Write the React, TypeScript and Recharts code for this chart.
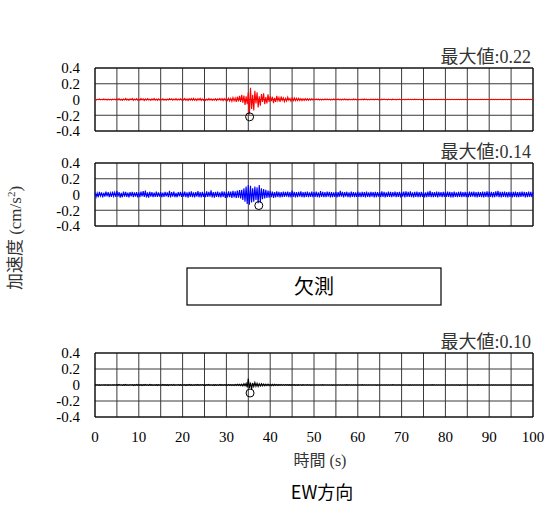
import React from 'react';
import { ComposedChart, Line, XAxis, YAxis, CartesianGrid, ReferenceDot, ReferenceArea } from 'recharts';

const SAMPLE_STEP = 0.25; // seconds between samples

const redValues = [
  0.004,-0.006,0.003,-0.002,0.007,-0.005,0.002,-0.004,0.006,-0.003,0.005,-0.007,0.003,-0.004,0.002,-0.006,0.005,-0.003,0.004,-0.005,
  0.008,-0.006,0.011,-0.009,0.004,-0.012,0.007,-0.005,0.013,-0.008,0.006,-0.01,0.009,-0.004,0.012,-0.011,0.005,-0.007,0.01,-0.009,
  0.006,-0.01,0.012,-0.005,0.008,-0.013,0.007,-0.009,0.011,-0.006,0.004,-0.011,0.009,-0.008,0.013,-0.007,0.006,-0.012,0.008,-0.005,
  0.007,-0.005,0.009,-0.008,0.004,-0.01,0.006,-0.007,0.011,-0.004,0.008,-0.009,0.005,-0.006,0.01,-0.008,0.007,-0.005,0.009,-0.006,
  0.01,-0.008,0.013,-0.011,0.006,-0.014,0.009,-0.007,0.012,-0.01,0.015,-0.009,0.008,-0.013,0.011,-0.006,0.014,-0.012,0.007,-0.01,
  0.008,-0.01,0.006,-0.009,0.012,-0.007,0.009,-0.011,0.005,-0.008,0.01,-0.012,0.007,-0.006,0.013,-0.009,0.011,-0.014,0.012,-0.01,
  0.015,-0.012,0.018,-0.02,0.014,-0.022,0.025,-0.018,0.02,-0.03,0.035,-0.025,0.045,-0.03,0.06,-0.04,0.05,-0.07,0.04,-0.06,
  0.09,-0.19,0.15,-0.12,0.06,-0.14,0.11,-0.05,0.09,-0.1,0.04,-0.08,0.07,-0.03,0.08,-0.06,0.03,-0.05,0.065,-0.03,
  0.04,-0.02,0.035,-0.045,0.02,-0.03,0.045,-0.015,0.025,-0.03,0.038,-0.012,0.02,-0.028,0.015,-0.02,0.03,-0.01,0.012,-0.022,
  0.018,-0.015,0.02,-0.014,0.016,-0.012,0.015,-0.013,0.012,-0.014,0.01,-0.012,0.011,-0.009,0.01,-0.011,0.008,-0.009,0.01,-0.007,
  0.006,-0.005,0.007,-0.004,0.006,-0.006,0.005,-0.007,0.004,-0.005,0.006,-0.004,0.007,-0.005,0.005,-0.006,0.004,-0.005,0.006,-0.004,
  0.005,-0.004,0.006,-0.005,0.004,-0.006,0.005,-0.003,0.006,-0.005,0.004,-0.006,0.005,-0.004,0.003,-0.005,0.006,-0.004,0.005,-0.005,
  0.004,-0.005,0.003,-0.004,0.005,-0.004,0.006,-0.003,0.004,-0.005,0.003,-0.004,0.005,-0.003,0.004,-0.005,0.004,-0.003,0.005,-0.004,
  0.003,-0.004,0.004,-0.003,0.005,-0.003,0.003,-0.004,0.004,-0.002,0.003,-0.004,0.004,-0.003,0.002,-0.004,0.003,-0.003,0.004,-0.002,
  0.003,-0.003,0.002,-0.004,0.003,-0.002,0.004,-0.003,0.002,-0.003,0.003,-0.002,0.004,-0.003,0.003,-0.002,0.002,-0.003,0.003,-0.004,
  0.002,-0.003,0.003,-0.002,0.002,-0.003,0.003,-0.002,0.003,-0.003,0.002,-0.002,0.003,-0.003,0.002,-0.003,0.003,-0.002,0.002,-0.003,
  0.003,-0.002,0.002,-0.003,0.003,-0.003,0.002,-0.002,0.003,-0.002,0.002,-0.003,0.003,-0.002,0.003,-0.003,0.002,-0.002,0.003,-0.003,
  0.002,-0.003,0.003,-0.003,0.002,-0.002,0.003,-0.003,0.002,-0.003,0.003,-0.002,0.002,-0.003,0.003,-0.002,0.002,-0.003,0.003,-0.002,
  0.003,-0.002,0.002,-0.003,0.002,-0.002,0.003,-0.003,0.003,-0.002,0.002,-0.003,0.003,-0.002,0.002,-0.003,0.003,-0.003,0.002,-0.002,
  0.002,-0.003,0.003,-0.002,0.003,-0.003,0.002,-0.002,0.003,-0.003,0.002,-0.002,0.003,-0.003,0.002,-0.003,0.002,-0.002,0.003,-0.003,
  0.002,
];

const blueValues = [
  0.025,-0.03,0.018,-0.035,0.032,-0.02,0.028,-0.038,0.022,-0.027,0.035,-0.024,0.03,-0.033,0.02,-0.029,0.036,-0.022,0.027,-0.031,
  0.045,-0.028,0.03,-0.04,0.022,-0.035,0.038,-0.026,0.033,-0.03,0.024,-0.037,0.029,-0.023,0.034,-0.032,0.026,-0.028,0.031,-0.036,
  0.027,-0.033,0.038,-0.025,0.042,-0.03,0.05,-0.036,0.028,-0.04,0.035,-0.026,0.03,-0.034,0.024,-0.029,0.037,-0.031,0.026,-0.028,
  0.03,-0.035,0.025,-0.029,0.034,-0.024,0.028,-0.033,0.048,-0.038,0.031,-0.027,0.036,-0.032,0.022,-0.035,0.029,-0.025,0.033,-0.03,
  0.032,-0.026,0.037,-0.034,0.028,-0.039,0.035,-0.029,0.04,-0.033,0.027,-0.036,0.031,-0.028,0.044,-0.035,0.03,-0.038,0.034,-0.031,
  0.028,-0.034,0.041,-0.03,0.033,-0.027,0.052,-0.036,0.03,-0.04,0.035,-0.029,0.038,-0.033,0.027,-0.037,0.04,-0.031,0.036,-0.042,
  0.034,-0.038,0.04,-0.033,0.037,-0.042,0.045,-0.036,0.04,-0.045,0.05,-0.04,0.055,-0.05,0.06,-0.07,0.08,-0.09,0.1,-0.12,
  0.12,-0.13,0.11,-0.1,0.08,-0.09,0.1,-0.07,0.09,-0.11,0.12,-0.1,0.08,-0.06,0.07,-0.05,0.06,-0.045,0.05,-0.04,
  0.045,-0.035,0.038,-0.042,0.03,-0.036,0.04,-0.032,0.035,-0.038,0.029,-0.034,0.037,-0.03,0.033,-0.028,0.036,-0.035,0.031,-0.037,
  0.05,-0.03,0.034,-0.038,0.029,-0.035,0.033,-0.027,0.039,-0.032,0.03,-0.036,0.035,-0.029,0.038,-0.034,0.028,-0.031,0.036,-0.033,
  0.031,-0.029,0.036,-0.034,0.027,-0.038,0.042,-0.03,0.033,-0.035,0.029,-0.032,0.037,-0.028,0.034,-0.036,0.03,-0.033,0.028,-0.031,
  0.034,-0.037,0.029,-0.031,0.046,-0.028,0.032,-0.036,0.03,-0.027,0.035,-0.033,0.028,-0.038,0.036,-0.03,0.031,-0.034,0.027,-0.029,
  0.036,-0.031,0.028,-0.035,0.033,-0.029,0.031,-0.037,0.038,-0.03,0.027,-0.033,0.035,-0.028,0.03,-0.036,0.034,-0.032,0.029,-0.027,
  0.029,-0.034,0.04,-0.03,0.032,-0.037,0.028,-0.031,0.036,-0.029,0.033,-0.035,0.03,-0.028,0.037,-0.033,0.031,-0.03,0.035,-0.036,
  0.033,-0.028,0.037,-0.036,0.041,-0.031,0.033,-0.029,0.039,-0.034,0.028,-0.037,0.032,-0.03,0.036,-0.033,0.029,-0.035,0.034,-0.03,
  0.03,-0.036,0.028,-0.032,0.037,-0.029,0.047,-0.035,0.031,-0.033,0.029,-0.03,0.036,-0.037,0.033,-0.028,0.03,-0.034,0.035,-0.031,
  0.035,-0.03,0.037,-0.029,0.032,-0.036,0.03,-0.037,0.036,-0.031,0.028,-0.034,0.033,-0.03,0.038,-0.035,0.031,-0.029,0.034,-0.032,
  0.029,-0.035,0.038,-0.031,0.035,-0.028,0.037,-0.034,0.031,-0.036,0.034,-0.029,0.03,-0.033,0.036,-0.037,0.032,-0.03,0.039,-0.034,
  0.036,-0.029,0.033,-0.037,0.03,-0.035,0.039,-0.028,0.046,-0.034,0.032,-0.036,0.035,-0.031,0.038,-0.033,0.03,-0.037,0.034,-0.03,
  0.031,-0.036,0.035,-0.03,0.037,-0.033,0.029,-0.035,0.034,-0.031,0.036,-0.028,0.033,-0.036,0.03,-0.034,0.037,-0.029,0.032,-0.033,
  0.028,
];

const blackValues = [
  0.002,-0.001,0.003,-0.002,0.001,-0.003,0.002,-0.002,0.003,-0.001,0.002,-0.003,0.001,-0.002,0.003,-0.002,0.002,-0.001,0.003,-0.002,
  0.004,-0.003,0.006,-0.002,0.003,-0.005,0.004,-0.003,0.007,-0.004,0.003,-0.005,0.005,-0.002,0.004,-0.006,0.003,-0.004,0.006,-0.003,
  0.005,-0.004,0.003,-0.006,0.004,-0.003,0.007,-0.004,0.003,-0.005,0.006,-0.003,0.004,-0.005,0.003,-0.004,0.005,-0.006,0.004,-0.003,
  0.003,-0.005,0.006,-0.003,0.004,-0.004,0.003,-0.006,0.005,-0.003,0.004,-0.005,0.006,-0.004,0.003,-0.003,0.005,-0.004,0.004,-0.005,
  0.005,-0.003,0.004,-0.006,0.003,-0.004,0.006,-0.003,0.004,-0.005,0.003,-0.004,0.005,-0.003,0.006,-0.005,0.004,-0.003,0.005,-0.004,
  0.004,-0.006,0.005,-0.003,0.006,-0.004,0.003,-0.005,0.004,-0.006,0.005,-0.004,0.003,-0.005,0.006,-0.003,0.004,-0.005,0.005,-0.004,
  0.004,-0.005,0.006,-0.004,0.005,-0.006,0.005,-0.006,0.007,-0.005,0.008,-0.006,0.009,-0.007,0.01,-0.012,0.015,-0.01,0.02,-0.03,
  0.08,-0.04,0.03,-0.05,0.025,-0.02,0.03,-0.015,0.02,-0.018,0.015,-0.012,0.016,-0.01,0.012,-0.01,0.01,-0.008,0.011,-0.007,
  0.009,-0.008,0.008,-0.007,0.008,-0.006,0.007,-0.006,0.006,-0.005,0.006,-0.005,0.005,-0.005,0.005,-0.004,0.005,-0.004,0.004,-0.004,
  0.004,-0.003,0.004,-0.004,0.003,-0.004,0.004,-0.003,0.003,-0.004,0.004,-0.003,0.003,-0.003,0.004,-0.003,0.003,-0.004,0.003,-0.003,
  0.003,-0.002,0.003,-0.003,0.002,-0.003,0.003,-0.002,0.004,-0.003,0.002,-0.003,0.003,-0.002,0.003,-0.003,0.002,-0.004,0.003,-0.002,
  0.002,-0.003,0.003,-0.002,0.003,-0.003,0.002,-0.003,0.003,-0.002,0.004,-0.003,0.002,-0.002,0.003,-0.003,0.002,-0.003,0.003,-0.002,
  0.003,-0.002,0.002,-0.003,0.004,-0.002,0.003,-0.003,0.002,-0.003,0.003,-0.002,0.003,-0.003,0.002,-0.002,0.003,-0.004,0.002,-0.003,
  0.002,-0.003,0.003,-0.002,0.002,-0.003,0.003,-0.003,0.002,-0.002,0.003,-0.003,0.004,-0.002,0.003,-0.003,0.002,-0.003,0.003,-0.002,
  0.003,-0.003,0.002,-0.002,0.003,-0.003,0.002,-0.004,0.003,-0.002,0.002,-0.003,0.003,-0.002,0.002,-0.003,0.003,-0.003,0.002,-0.002,
  0.002,-0.003,0.003,-0.002,0.003,-0.003,0.002,-0.002,0.004,-0.003,0.003,-0.002,0.002,-0.003,0.003,-0.002,0.002,-0.003,0.003,-0.003,
  0.003,-0.002,0.002,-0.003,0.003,-0.002,0.003,-0.003,0.002,-0.002,0.003,-0.003,0.002,-0.004,0.003,-0.002,0.002,-0.003,0.003,-0.002,
  0.002,-0.003,0.003,-0.003,0.002,-0.002,0.003,-0.003,0.002,-0.003,0.004,-0.002,0.002,-0.003,0.003,-0.002,0.003,-0.003,0.002,-0.002,
  0.003,-0.002,0.002,-0.003,0.003,-0.003,0.002,-0.002,0.003,-0.002,0.002,-0.003,0.003,-0.003,0.002,-0.002,0.003,-0.003,0.002,-0.003,
  0.002,-0.003,0.003,-0.002,0.002,-0.003,0.003,-0.002,0.003,-0.003,0.002,-0.002,0.003,-0.003,0.002,-0.002,0.003,-0.003,0.002,-0.002,
  0.002,
];

// peak markers (time s, value)
const peakTimes = [35.3, 37.4, 35.4];
const peakValues = [-0.22, -0.14, -0.1];
const maxLabels = ['最大値:0.22', '最大値:0.14', '最大値:0.10'];

const xGridTicks = [0,5,10,15,20,25,30,35,40,45,50,55,60,65,70,75,80,85,90,95,100];
const yTicks = [-0.4, -0.2, 0, 0.2, 0.4];

const SERIF = "'Liberation Serif', 'Times New Roman', 'Noto Sans CJK JP', serif";
const SANS = "'Noto Sans CJK JP', 'Noto Sans', sans-serif";

const toRows = (vals: number[]) => vals.map((v, i) => ({ t: i * SAMPLE_STEP, v }));

const panels = [
  { data: toRows(redValues), color: '#ff0000', top: 68, bottom: 131, showX: false },
  { data: toRows(blueValues), color: '#0000ff', top: 163, bottom: 226, showX: false },
  { data: toRows(blackValues), color: '#000000', top: 353, bottom: 417, showX: true },
];

const W = 549;
const H = 507;

const fmtY = (v: number) => (v === 0 ? '0' : v.toFixed(1));

function Panel({ idx }: { idx: number }) {
  const p = panels[idx];
  const xh = p.showX ? 30 : 0;
  return (
    <div style={{ position: 'absolute', left: 0, top: 0 }}>
      <ComposedChart
        width={W}
        height={H}
        data={p.data}
        margin={{ top: p.top, right: 16, bottom: H - p.bottom - xh, left: 0 }}
      >
        <CartesianGrid stroke="#3a3a3a" strokeWidth={1} vertical horizontal />
        <XAxis
          dataKey="t"
          type="number"
          domain={[0, 100]}
          ticks={xGridTicks}
          interval={0}
          height={xh}
          axisLine={false}
          tickLine={false}
          tickSize={0}
          tickMargin={14}
          tick={{ fontSize: p.showX ? 15 : 1, fontFamily: SERIF, fill: p.showX ? '#000' : 'none' }}
          tickFormatter={(v: number) => (p.showX && v % 10 === 0 ? String(v) : '')}
        />
        <YAxis
          type="number"
          domain={[-0.4, 0.4]}
          ticks={yTicks}
          interval={0}
          width={95}
          axisLine={false}
          tickLine={false}
          tickSize={0}
          tickMargin={15}
          tick={{ fontSize: 15, fontFamily: SERIF, fill: '#000' }}
          tickFormatter={fmtY}
        />
        <ReferenceArea x1={0} x2={100} y1={-0.4} y2={0.4} fill="none" stroke="#000" strokeWidth={1} ifOverflow="visible" />
        <Line
          dataKey="v"
          stroke={p.color}
          strokeWidth={1.1}
          dot={false}
          isAnimationActive={false}
          type="linear"
        />
        <ReferenceDot
          x={peakTimes[idx]}
          y={peakValues[idx]}
          r={4}
          fill="none"
          stroke="#000"
          strokeWidth={1}
          ifOverflow="visible"
        />
      </ComposedChart>
    </div>
  );
}

export default function App() {
  return (
    <div style={{ position: 'absolute', left: 0, top: 0, width: W, height: H, background: '#fff' }}>
      <Panel idx={0} />
      <Panel idx={1} />
      <Panel idx={2} />
      <svg width={W} height={H} style={{ position: 'absolute', left: 0, top: 0 }}>
        {panels.map((p, i) => (
          <text key={i} x={531} y={p.top - 5} textAnchor="end" fontSize={18} fontFamily={SERIF} fill="#333">
            {maxLabels[i]}
          </text>
        ))}
        <rect x={187} y={268} width={254} height={37} fill="none" stroke="#000" strokeWidth={1.2} />
        <text x={314} y={294} textAnchor="middle" fontSize={20} fontFamily={SANS} fontWeight={400} fill="#000">
          欠測
        </text>
        <text
          x={0}
          y={0}
          transform="translate(21,238) rotate(-90)"
          textAnchor="middle"
          fontSize={17}
          fontFamily={SERIF}
          fill="#333"
        >
          加速度 (cm/s<tspan dy={-6} fontSize={11}>2</tspan><tspan dy={6}>)</tspan>
        </text>
        <text x={320} y={466} textAnchor="middle" fontSize={16} fontFamily={SERIF} fill="#333">
          時間 (s)
        </text>
        <text x={322} y={499} textAnchor="middle" fontSize={18} fontFamily={SANS} fontWeight={400} fill="#000">
          EW方向
        </text>
      </svg>
    </div>
  );
}
